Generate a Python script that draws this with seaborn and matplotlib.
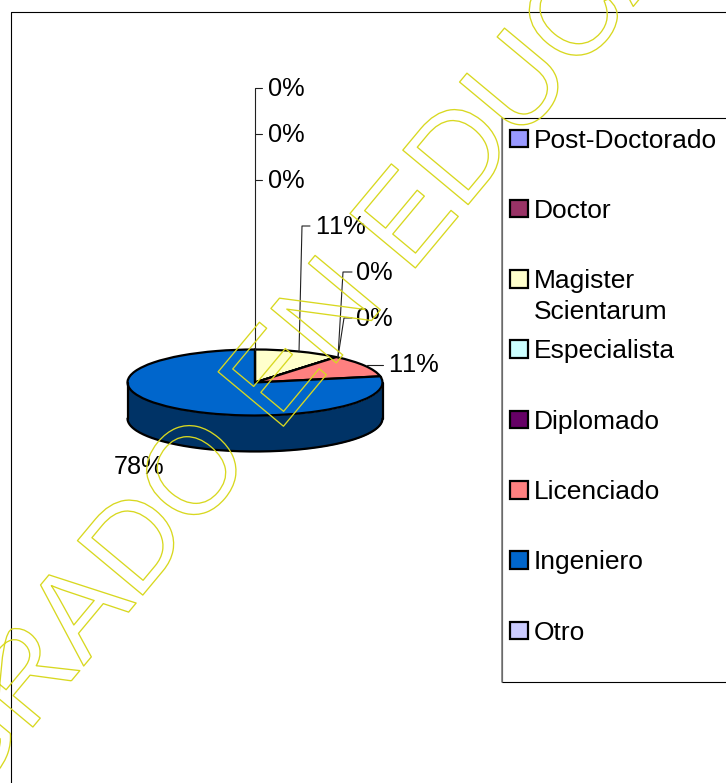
import matplotlib
matplotlib.use('Agg')
import matplotlib.pyplot as plt
import matplotlib.patheffects as pe
from matplotlib.patches import Rectangle
import numpy as np
import seaborn as sns

categories = ['Post-Doctorado', 'Doctor', 'Magister\nScientarum', 'Especialista',
              'Diplomado', 'Licenciado', 'Ingeniero', 'Otro']
values = [0, 0, 11, 0, 0, 11, 78, 0]
hex_colors = ['#9999FF', '#993366', '#FFFFCC', '#CCFFFF',
              '#660066', '#FF8080', '#0066CC', '#CCCCFF']
watermark = 'POSTGRADO EN EDUCACION'

sns.set_theme(style='white')
plt.rcParams['font.family'] = ['Liberation Sans', 'DejaVu Sans']
plt.rcParams['text.kerning_factor'] = 6  # the source has no kerning, "11%" stays wide
palette = sns.color_palette(hex_colors)

W, H = 726, 783
fig = plt.figure(figsize=(W / 100, H / 100), dpi=100, facecolor='white')

# pie squashed into a flat ellipse to look like the old 3D excel chart
cx, cy, rx, ry, depth = 255, 382.5, 127.5, 33, 36
ax_pie = fig.add_axes([(cx - rx) / W, 1 - (cy + ry) / H, 2 * rx / W, 2 * ry / H], zorder=1)
d = depth / ry
t = np.linspace(np.pi, 2 * np.pi, 200)
ax_pie.fill_between(np.cos(t), np.sin(t), np.sin(t) - d, color='#003366', lw=0, clip_on=False)
ax_pie.plot(np.cos(t), np.sin(t) - d, color='black', lw=1.6, clip_on=False)
ax_pie.plot([-1, -1], [0, -d], color='black', lw=1.6, clip_on=False)
ax_pie.plot([1, 1], [0, -d], color='black', lw=1.6, clip_on=False)
wedges, _ = ax_pie.pie(values, colors=palette, startangle=90, counterclock=False,
                       wedgeprops=dict(edgecolor='black', linewidth=1.6, clip_on=False))
ax_pie.set_aspect('auto')
ax_pie.set_xlim(-1, 1)
ax_pie.set_ylim(-1, 1)
ax_pie.axis('off')

# full size overlay in pixel coordinates, for frames, labels and legend
ax = fig.add_axes([0, 0, 1, 1], zorder=2)
ax.set_xlim(0, W)
ax.set_ylim(H, 0)
ax.axis('off')

# chart frame, runs off the right and the bottom
ax.plot([10.5, 10.5, W + 5], [H + 5, 11.5, 11.5], color='black', lw=0.8)

# data labels with leader lines
label_pos = [(268, 87), (268, 133), (268, 179), (315, 225), (356, 271), (356, 317), (388, 363), (114, 465)]
leaders = [
    [(255, 350), (255, 88), (262, 88)],
    [(255, 134), (262, 134)],
    [(255, 180), (262, 180)],
    [(299, 352), (302, 226), (310, 226)],
    [(338, 357), (343, 272), (352, 272)],
    [(338, 357), (344, 318), (352, 318)],
    [(367, 365), (383, 365)],
]
for line in leaders:
    xs, ys = zip(*line)
    ax.plot(xs, ys, color='#202020', lw=0.8)

label_values = [values[0], values[1], values[7], values[2], values[3], values[4], values[5], values[6]]
for (x, y), v in zip(label_pos, label_values):
    ax.text(x, y, '{:.0f}%'.format(v), fontsize=18.3, color='black', ha='left', va='center_baseline')

# legend box, built by hand because the two line entry does not push the rows down
ax.plot([W + 5, 502, 502, W + 5], [118, 118, 682, 682], color='black', lw=0.8)
ax.plot([502, 502], [118, 682], color='#808080', lw=1.2)
for i, (name, c) in enumerate(zip(categories, palette)):
    y = 138.5 + 70.3 * i
    ax.add_patch(Rectangle((510, y - 9), 17.5, 17.5, facecolor=c, edgecolor='black', lw=1.6))
    first = name.split('\n')
    for j, part in enumerate(first):
        ax.text(534, y - 0.5 + 31 * j, part, fontsize=19, color='black', ha='left', va='center_baseline')

# watermark, hollow letters
ax.text(292, 366, watermark, fontsize=89, rotation=50.2, rotation_mode='anchor', color='none',
        ha='center', va='center', clip_on=True, zorder=10,
        path_effects=[pe.Stroke(linewidth=0.95, foreground='#D8D820')])

plt.savefig('out.png', dpi=100, facecolor='white')
